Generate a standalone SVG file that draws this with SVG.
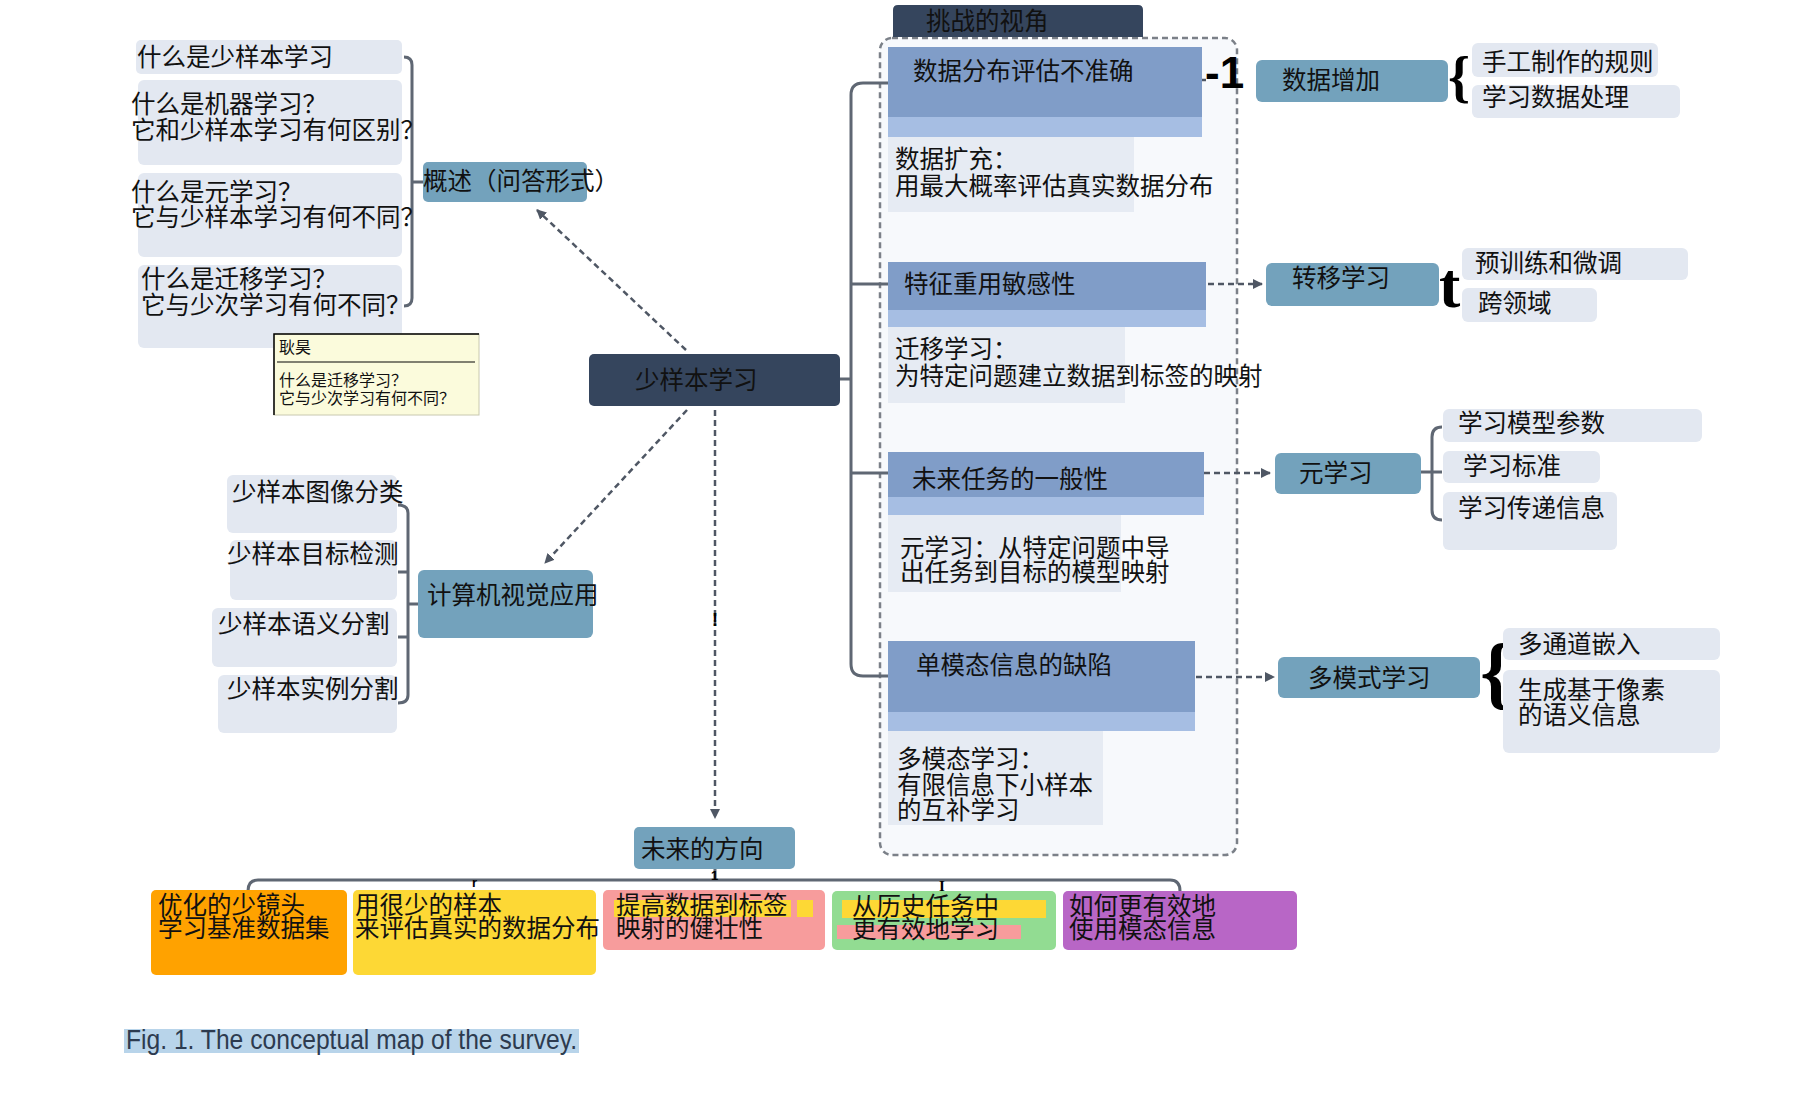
<svg xmlns="http://www.w3.org/2000/svg" width="1802" height="1106" viewBox="0 0 1802 1106">
<defs>
<style>
.t{font-family:"Noto Sans CJK SC","Noto Sans",sans-serif;font-size:24.5px;fill:#111;}
.tip{font-family:"Noto Sans CJK SC","Noto Sans",sans-serif;font-size:16px;fill:#111;}
.leaf{fill:#e3e8f1;}
.teal{fill:#73a2bc;}
.dark{fill:#35455d;}
.chal{fill:#809dc8;}
.band{fill:#a6bee3;}
.desc{fill:#e6ebf3;}
.tree{fill:none;stroke:#5f6773;stroke-width:3;}
.dash{fill:none;stroke:#4f5764;stroke-width:2.5;stroke-dasharray:6 4;}
.glyph{font-family:"Liberation Serif",serif;font-weight:bold;fill:#000;}
.art{font-family:"Liberation Sans",sans-serif;font-weight:bold;fill:#000;}
</style>
<marker id="ah" viewBox="0 0 10 10" refX="9" refY="5" markerWidth="4" markerHeight="4" orient="auto" markerUnits="strokeWidth">
<path d="M0,0 L10,5 L0,10 z" fill="#4f5764"/>
</marker>
</defs>
<rect width="1802" height="1106" fill="#ffffff"/>

<g id="challenge-container">
<rect x="880" y="38" width="357" height="817" rx="12" fill="#f7f9fc" stroke="#7b8088" stroke-width="2.5" stroke-dasharray="6 4"/>
</g>

<g id="connectors">
<path class="tree" d="M404,57 Q412,57 412,65 V298 Q412,306 404,306 M412,182 H423"/>
<path class="tree" d="M398,505 Q408,505 408,513 V695 Q408,703 398,703 M398,572 H408 M398,637 H408 M408,604 H418"/>
<path class="tree" d="M840,379 H851 M888,83 H863 Q851,83 851,95 V664 Q851,676 863,676 H888 M851,284 H888 M851,473 H888"/>
<path class="tree" d="M1442,427 Q1432,427 1432,437 V510 Q1432,520 1442,520 M1421,472 H1442"/>
<path class="tree" d="M715,869 V880 M248,891 Q248,880 258,880 H1170 Q1180,880 1180,891"/>
<path class="dash" d="M686,350 L537,210" marker-end="url(#ah)"/>
<path class="dash" d="M687,410 L545,563" marker-end="url(#ah)"/>
<path class="dash" d="M715,410 V818" marker-end="url(#ah)"/>
<path class="dash" d="M1200,80 H1206"/>
<path class="dash" d="M1208,284 H1262" marker-end="url(#ah)"/>
<path class="dash" d="M1204,473 H1270" marker-end="url(#ah)"/>
<path class="dash" d="M1196,677 H1274" marker-end="url(#ah)"/>
<text class="art" x="1205" y="88" font-size="44">-1</text>
<text class="glyph" x="1448" y="96" font-size="56">{</text>
<text class="glyph" x="1439" y="307" font-size="64">t</text>
<text class="glyph" x="1480" y="699" font-size="80">{</text>
<text class="art" x="712" y="626" font-size="18">!</text>
<text class="art" x="711" y="880" font-size="13" font-weight="normal">1</text>
<text class="art" x="472" y="887" font-size="13" font-weight="normal">r</text>
<text class="glyph" x="939" y="891" font-size="15">I</text>
</g>

<g id="qa1"><rect class="leaf" x="136" y="40" width="266" height="34" rx="5"/><text class="t" x="137" y="66">什么是少样本学习</text></g>
<g id="qa2"><rect class="leaf" x="138" y="80" width="264" height="85" rx="6"/><text class="t" x="131" y="113">什么是机器学习？</text><text class="t" x="131" y="139">它和少样本学习有何区别？</text></g>
<g id="qa3"><rect class="leaf" x="138" y="173" width="264" height="84" rx="6"/><text class="t" x="131" y="201">什么是元学习？</text><text class="t" x="131" y="226">它与少样本学习有何不同？</text></g>
<g id="qa4"><rect class="leaf" x="138" y="265" width="264" height="83" rx="6"/><text class="t" x="141" y="288">什么是迁移学习？</text><text class="t" x="141" y="314">它与少次学习有何不同？</text></g>

<g id="overview"><rect class="teal" x="423" y="162" width="164" height="40" rx="5"/><text class="t" x="423" y="190">概述（问答形式）</text></g>

<g id="tooltip">
<rect x="274" y="334" width="205" height="81" fill="#fbfbdc" stroke="#c8c8b0" stroke-width="1"/>
<path d="M274,415 V334 H479" fill="none" stroke="#000" stroke-width="1.5"/>
<text class="tip" x="279" y="353">耿昊</text>
<line x1="277" y1="362" x2="475" y2="362" stroke="#808070" stroke-width="2"/>
<text class="tip" x="279" y="386">什么是迁移学习？</text>
<text class="tip" x="279" y="404">它与少次学习有何不同？</text>
</g>

<g id="center"><rect class="dark" x="589" y="354" width="251" height="52" rx="5"/><text class="t" x="635" y="389" fill="#1c2330">少样本学习</text></g>

<g id="cv"><rect class="teal" x="418" y="570" width="175" height="68" rx="6"/><text class="t" x="427" y="604">计算机视觉应用</text></g>
<g id="cv1"><rect class="leaf" x="227" y="475" width="170" height="58" rx="6"/><text class="t" x="232" y="501">少样本图像分类</text></g>
<g id="cv2"><rect class="leaf" x="230" y="540" width="167" height="60" rx="6"/><text class="t" x="227" y="563">少样本目标检测</text></g>
<g id="cv3"><rect class="leaf" x="212" y="608" width="185" height="59" rx="6"/><text class="t" x="218" y="633">少样本语义分割</text></g>
<g id="cv4"><rect class="leaf" x="218" y="675" width="179" height="58" rx="6"/><text class="t" x="227" y="698">少样本实例分割</text></g>

<g id="challenge-header"><path class="dark" d="M893,37 V10 Q893,5 898,5 H1138 Q1143,5 1143,10 V37 Z"/><text class="t" x="926" y="30" fill="#1c2330">挑战的视角</text></g>

<g id="ch1"><rect class="band" x="888" y="47" width="314" height="90"/><rect class="chal" x="888" y="47" width="314" height="70"/><text class="t" x="913" y="80">数据分布评估不准确</text></g>
<g id="ch1-desc"><rect class="desc" x="888" y="137" width="246" height="75"/><text class="t" x="895" y="168">数据扩充：</text><text class="t" x="895" y="195">用最大概率评估真实数据分布</text></g>
<g id="ch2"><rect class="band" x="888" y="262" width="318" height="65"/><rect class="chal" x="888" y="262" width="318" height="48"/><text class="t" x="904" y="293">特征重用敏感性</text></g>
<g id="ch2-desc"><rect class="desc" x="888" y="327" width="237" height="76"/><text class="t" x="895" y="358">迁移学习：</text><text class="t" x="895" y="385">为特定问题建立数据到标签的映射</text></g>
<g id="ch3"><rect class="band" x="888" y="452" width="316" height="63"/><rect class="chal" x="888" y="452" width="316" height="45"/><text class="t" x="912" y="488">未来任务的一般性</text></g>
<g id="ch3-desc"><rect class="desc" x="888" y="515" width="233" height="77"/><text class="t" x="900" y="557">元学习：从特定问题中导</text><text class="t" x="900" y="581">出任务到目标的模型映射</text></g>
<g id="ch4"><rect class="band" x="888" y="641" width="307" height="90"/><rect class="chal" x="888" y="641" width="307" height="71"/><text class="t" x="916" y="674">单模态信息的缺陷</text></g>
<g id="ch4-desc"><rect class="desc" x="888" y="731" width="215" height="94"/><text class="t" x="897" y="768">多模态学习：</text><text class="t" x="897" y="794">有限信息下小样本</text><text class="t" x="897" y="819">的互补学习</text></g>

<g id="aug"><rect class="teal" x="1256" y="60" width="192" height="42" rx="6"/><text class="t" x="1282" y="89">数据增加</text></g>
<g id="aug1"><rect class="leaf" x="1472" y="43" width="186" height="34" rx="6"/><text class="t" x="1482" y="71">手工制作的规则</text></g>
<g id="aug2"><rect class="leaf" x="1472" y="85" width="208" height="33" rx="6"/><text class="t" x="1482" y="106">学习数据处理</text></g>

<g id="transfer"><rect class="teal" x="1266" y="263" width="173" height="43" rx="6"/><text class="t" x="1292" y="287">转移学习</text></g>
<g id="tr1"><rect class="leaf" x="1462" y="248" width="226" height="32" rx="6"/><text class="t" x="1475" y="272">预训练和微调</text></g>
<g id="tr2"><rect class="leaf" x="1462" y="288" width="135" height="34" rx="6"/><text class="t" x="1478" y="312">跨领域</text></g>

<g id="meta"><rect class="teal" x="1275" y="453" width="146" height="41" rx="6"/><text class="t" x="1299" y="482">元学习</text></g>
<g id="meta1"><rect class="leaf" x="1443" y="409" width="259" height="33" rx="6"/><text class="t" x="1458" y="432">学习模型参数</text></g>
<g id="meta2"><rect class="leaf" x="1443" y="451" width="157" height="32" rx="6"/><text class="t" x="1463" y="475">学习标准</text></g>
<g id="meta3"><rect class="leaf" x="1443" y="492" width="174" height="58" rx="6"/><text class="t" x="1458" y="517">学习传递信息</text></g>

<g id="multimodal"><rect class="teal" x="1278" y="657" width="202" height="41" rx="6"/><text class="t" x="1308" y="687">多模式学习</text></g>
<g id="mm1"><rect class="leaf" x="1503" y="628" width="217" height="32" rx="6"/><text class="t" x="1518" y="653">多通道嵌入</text></g>
<g id="mm2"><rect class="leaf" x="1503" y="670" width="217" height="83" rx="6"/><text class="t" x="1518" y="699">生成基于像素</text><text class="t" x="1518" y="724">的语义信息</text></g>

<g id="future"><rect class="teal" x="634" y="827" width="161" height="42" rx="5"/><text class="t" x="641" y="858">未来的方向</text></g>
<g id="f1"><rect x="151" y="890" width="196" height="85" rx="5" fill="#ffa200"/><text class="t" x="158" y="914">优化的少镜头</text><text class="t" x="158" y="937">学习基准数据集</text></g>
<g id="f2"><rect x="353" y="890" width="243" height="85" rx="5" fill="#fdd835"/><text class="t" x="355" y="914">用很少的样本</text><text class="t" x="355" y="937">来评估真实的数据分布</text></g>
<g id="f3"><rect x="603" y="890" width="222" height="60" rx="5" fill="#f79c9c"/><rect x="614" y="900" width="177" height="17" fill="#fdd835"/><rect x="797" y="900" width="16" height="17" fill="#fdd835"/><text class="t" x="616" y="914">提高数据到标签</text><text class="t" x="616" y="937">映射的健壮性</text></g>
<g id="f4"><rect x="832" y="891" width="224" height="59" rx="5" fill="#92dc92"/><rect x="842" y="900" width="204" height="18" fill="#fdd835"/><rect x="837" y="925" width="184" height="14" fill="#f79c9c"/><text class="t" x="852" y="915">从历史任务中</text><text class="t" x="852" y="938">更有效地学习</text></g>
<g id="f5"><rect x="1063" y="891" width="234" height="59" rx="5" fill="#b866c6"/><text class="t" x="1069" y="915">如何更有效地</text><text class="t" x="1069" y="938">使用模态信息</text></g>

<g id="caption"><rect x="124" y="1029" width="455" height="24" fill="#b8d4ea"/><text x="126" y="1049" font-family="Liberation Sans, Arial, sans-serif" font-size="28" fill="#2d3b4f" textLength="451" lengthAdjust="spacingAndGlyphs">Fig. 1. The conceptual map of the survey.</text></g>
</svg>
